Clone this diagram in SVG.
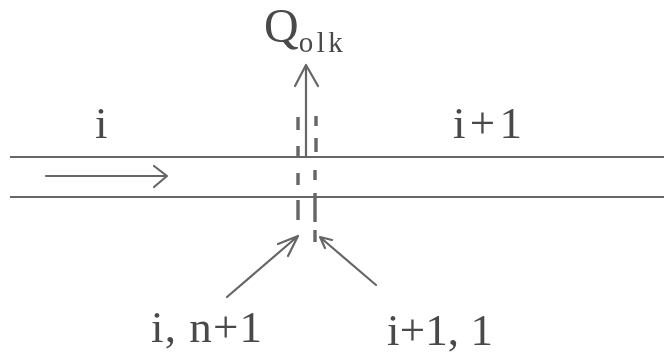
<svg xmlns="http://www.w3.org/2000/svg" width="664" height="358" viewBox="0 0 664 358">
<defs><filter id="soft" x="0" y="0" width="100%" height="100%"><feGaussianBlur stdDeviation="0.7"/></filter></defs>
<style>
text{font-family:"Liberation Serif",serif;fill:#4a4a4a;font-size:45px}
.l{fill:none;stroke:#666;stroke-width:2.2;stroke-linecap:round;stroke-linejoin:round}
.d{fill:none;stroke:#666;stroke-width:3.4}
</style>
<rect width="664" height="358" fill="#fff"/>
<g filter="url(#soft)">
<g id="connectors">
<path id="pipe-top" class="l" d="M10 157H664"/>
<path id="pipe-bottom" class="l" d="M10 197H664"/>
<path id="flow" class="l" d="M46 176H166M154 166L167 176L154 187"/>
<path id="q-arrow" class="l" d="M306 156V65M295 86L306 65L318 86"/>
<path class="d" d="M298 117V130M298 146V156M298 173V185M298 200V220"/>
<path class="d" d="M316 116V126M316 138V152M315 170V180M315 193V222M315 230V242"/>
<path id="a1" class="l" d="M227 297L298 236M278 244L298 236L288 256"/>
<path id="a2" class="l" d="M376 285L321 238M325 248L320 237L332 240"/>
</g>
<g id="label-q"><text x="264" y="42" style="font-size:48px">Q<tspan dy="10" style="font-size:29px;letter-spacing:3.5px">olk</tspan></text></g>
<g id="label-i"><text x="95" y="138">i</text></g>
<g id="label-i1"><text x="453" y="138" textLength="69">i+1</text></g>
<g id="label-in1"><text x="151" y="342" textLength="111">i, n+1</text></g>
<g id="label-i11"><text x="387" y="345" textLength="106">i+1, 1</text></g>
</g>
</svg>
